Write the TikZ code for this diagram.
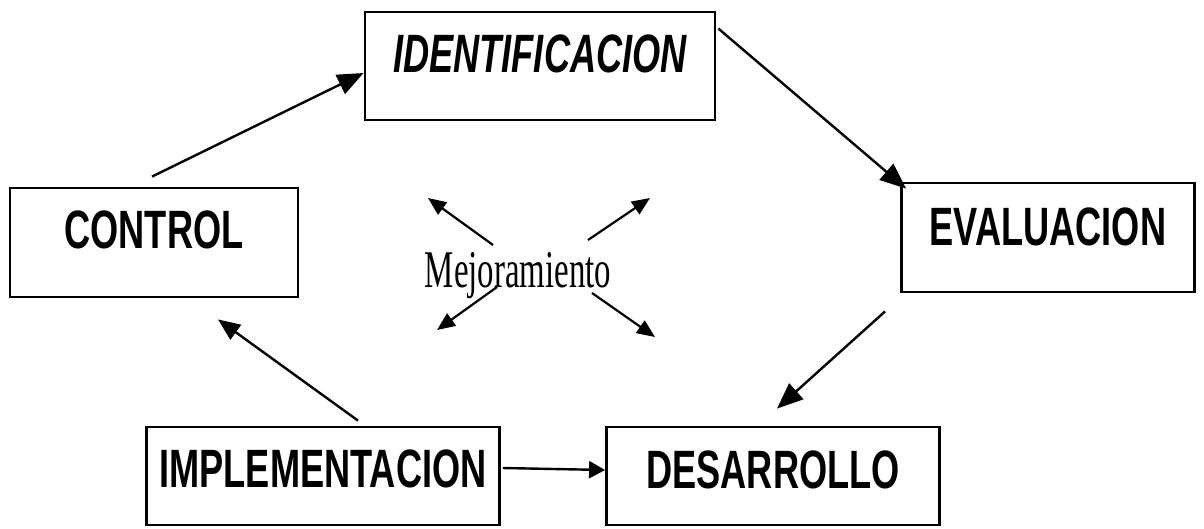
\documentclass[tikz,border=0pt]{standalone}
\usepackage{fontspec}
\setmainfont{Liberation Serif}
\setsansfont{Liberation Sans}
\usetikzlibrary{arrows.meta,calc}
\tikzset{
  box/.style={draw, line width=2.8pt, rectangle, inner xsep=0pt, inner ysep=0pt, anchor=base,
    font=\sffamily\bfseries\fontsize{54}{60}\selectfont},
  conn/.style={line width=2.4pt, -{Triangle[length=26pt,width=21pt]}},
  small/.style={line width=2.2pt, -{Triangle[length=18pt,width=15pt]}},
}
\newcommand{\nar}[1]{\scalebox{0.67}[1]{#1}}
\begin{document}
\begin{tikzpicture}[x=1pt,y=-1pt]
\useasboundingbox (0,0) rectangle (1204,528);
\node[box, minimum width=350pt, text height=60pt, text depth=48pt] (ident) at (540,72) {\nar{\itshape IDENTIFICACION}};
\node[box, minimum width=288pt, text height=60pt, text depth=49pt] (ctrl) at (154,248) {\nar{CONTROL}};
\node[box, minimum width=293pt, text height=62pt, text depth=47pt] (eval) at (1048,245) {\nar{EVALUACION}};
\node[box, minimum width=353pt, text height=60pt, text depth=38pt] (impl) at (323,487) {\nar{IMPLEMENTACION}};
\node[box, minimum width=333pt, text height=61pt, text depth=37pt] (des) at (773,488) {\nar{DESARROLLO}};
\node[anchor=base, inner sep=0pt, font=\rmfamily\fontsize{53}{60}\selectfont] (mej) at (518,287) {\scalebox{0.62}[1]{Mejoramiento}};

\draw[conn] ($(ctrl.north)+(-2,-10)$) -- ($(ident.west)+(0,7)$);
\draw[conn] ($(ident.north east)+(2,18)$) -- ($(eval.north west)+(6,7)$);
\draw[conn] ($(eval.south west)+(-15,18)$) -- ($(des.north)+(4,-17)$);
\draw[line width=2.4pt, -{Triangle[length=16pt,width=17pt]}] ($(impl.east)+(2,-8)$) -- ($(des.west)+(0,-6)$);
\draw[line width=2.4pt, -{Triangle[length=22pt,width=18pt]}] ($(impl.north)+(35,-5)$) -- ($(ctrl.south)+(64,21)$);

\coordinate (s1) at (493,245); \coordinate (t1) at (428,198);
\coordinate (s2) at (588,240); \coordinate (t2) at (650,198);
\coordinate (s3) at (497,287); \coordinate (t3) at (437,330);
\coordinate (s4) at (592,293); \coordinate (t4) at (655,337);
\draw[small] (s1) -- (t1);
\draw[small] (s2) -- (t2);
\draw[small] (s3) -- (t3);
\draw[small] (s4) -- (t4);
\end{tikzpicture}
\end{document}
